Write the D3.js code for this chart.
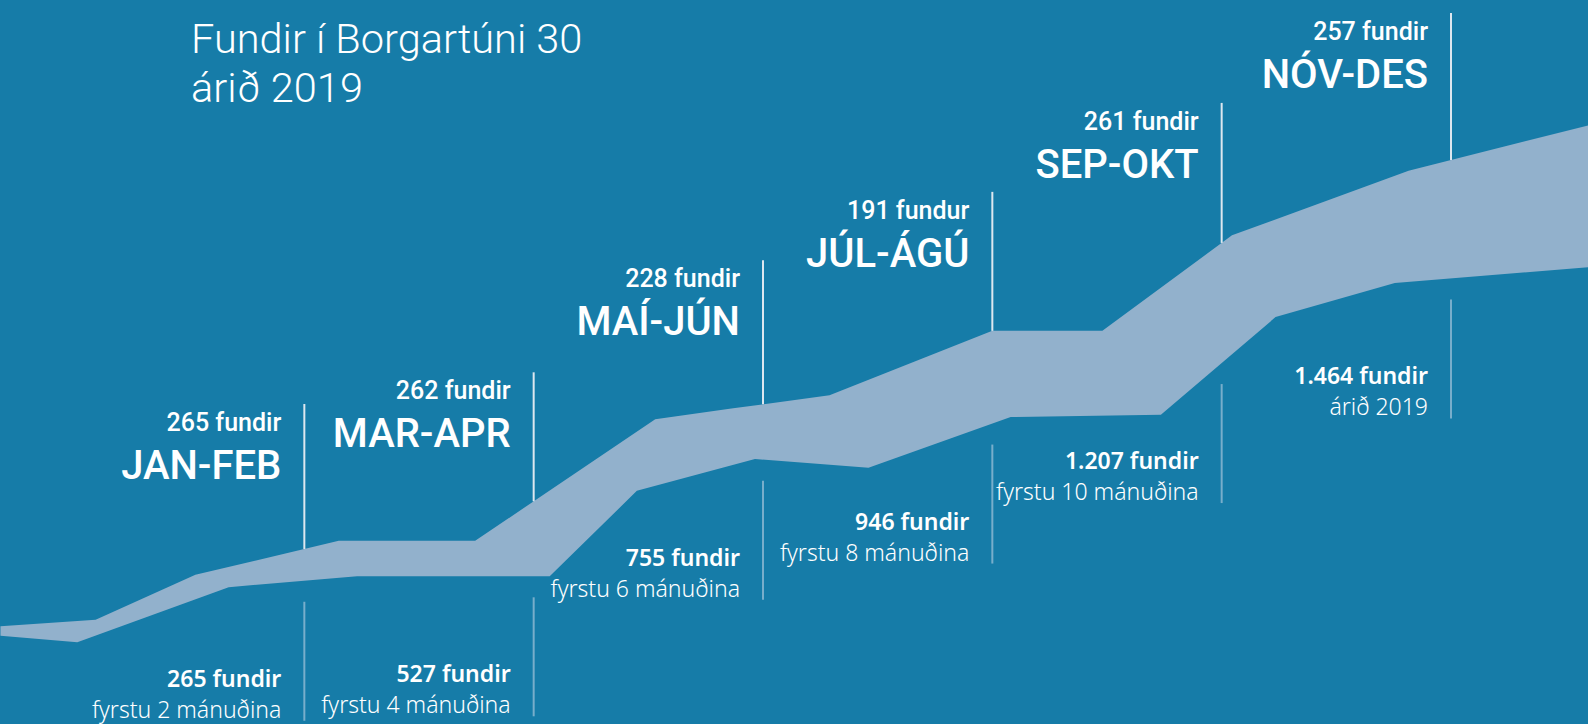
<!DOCTYPE html>
<html>
<head>
<meta charset="utf-8">
<script src="https://cdn.jsdelivr.net/npm/d3@7"></script>
<style>
  html, body { margin: 0; padding: 0; background: #167ca8; }
  svg { display: block; }
</style>
</head>
<body>
<div id="container"></div>
<script>
// tveggja mánaða tímabil
const periods = ["JAN-FEB", "MAR-APR", "MAÍ-JÚN", "JÚL-ÁGÚ", "SEP-OKT", "NÓV-DES"];
const periodEndMonth = [2, 4, 6, 8, 10, 12];
const periodMeetings = [265, 262, 228, 191, 261, 257];
const periodUnit = ["fundir", "fundir", "fundir", "fundur", "fundir", "fundir"];

// uppsafnað
const cumulativeMeetings = [265, 527, 755, 946, 1207, 1464];
const cumulativeNotes = ["fyrstu 2 mánuðina", "fyrstu 4 mánuðina", "fyrstu 6 mánuðina",
  "fyrstu 8 mánuðina", "fyrstu 10 mánuðina", "árið 2019"];

// borðinn (mánuður, hæð 0-100)
const bandUpperMonth = [-0.65, 0.18, 1.05, 2.30, 3.49, 5.06, 5.74, 6.58, 8.00, 8.96, 10.09, 11.63, 13.2];
const bandUpper = [13.5, 14.4, 20.6, 25.3, 25.3, 42.1, 43.6, 45.4, 54.3, 54.3, 67.5, 76.4, 82.7];
const bandLowerMonth = [-0.65, 0.02, 1.34, 2.46, 4.14, 4.90, 5.93, 6.92, 8.16, 9.47, 10.47, 11.51, 13.2];
const bandLower = [12.2, 11.3, 18.9, 20.4, 20.4, 32.2, 36.6, 35.4, 42.4, 42.7, 56.2, 60.9, 63.1];

const titleLines = ["Fundir í Borgartúni 30", "árið 2019"];

const width = 1588, height = 724;

const svg = d3.select("#container")
  .append("svg")
  .attr("width", width)
  .attr("height", height);

svg.append("rect")
  .attr("width", width)
  .attr("height", height)
  .attr("fill", "#167ca8");

const x = d3.scaleLinear().domain([0, 12]).range([75, 1451]);
const y = d3.scaleLinear().domain([0, 100]).range([height, 0]);

const isFormat = d3.formatLocale({decimal: ",", thousands: ".", grouping: [3], currency: ["", " kr."]}).format(",");

// línuleg brúun milli punkta
function interp(ms, vs, m) {
  for (let i = 0; i < ms.length - 1; i++) {
    if (m >= ms[i] && m <= ms[i + 1]) {
      const t = (m - ms[i]) / (ms[i + 1] - ms[i]);
      return vs[i] + t * (vs[i + 1] - vs[i]);
    }
  }
  return vs[vs.length - 1];
}

// borðinn
const upperPts = bandUpperMonth.map((m, i) => [x(m), y(bandUpper[i])]);
const lowerPts = bandLowerMonth.map((m, i) => [x(m), y(bandLower[i])]).reverse();
svg.append("path")
  .attr("d", d3.line()(upperPts.concat(lowerPts)) + "Z")
  .attr("fill", "#92b1cc");

// titill
svg.append("text")
  .attr("x", 191)
  .attr("y", 53)
  .attr("fill", "#ffffff")
  .style("font-family", "Roboto, sans-serif")
  .style("font-weight", 300)
  .style("font-size", "41.5px")
  .selectAll("tspan")
  .data(titleLines)
  .enter()
  .append("tspan")
  .attr("x", 191)
  .attr("dy", (d, i) => i === 0 ? 0 : 49)
  .text(d => d);

// bil fyrir ofan borðann (útlit)
const upperGap = [118, 102, 117, 112, 113, 120];

const groups = svg.selectAll("g.period")
  .data(periods)
  .enter()
  .append("g")
  .attr("class", "period");

groups.each(function (name, i) {
  const g = d3.select(this);
  const m = periodEndMonth[i];
  const px = x(m);
  const topY = y(interp(bandUpperMonth, bandUpper, m));
  const botY = y(interp(bandLowerMonth, bandLower, m));
  const countY = topY - upperGap[i];
  const tx = px - 23;

  // efri lína
  g.append("line")
    .attr("x1", px).attr("x2", px)
    .attr("y1", countY - 27).attr("y2", topY)
    .attr("stroke", "#dde7ef")
    .attr("stroke-width", 2);

  g.append("text")
    .attr("x", tx).attr("y", countY)
    .attr("text-anchor", "end")
    .attr("fill", "#ffffff")
    .style("font-family", "Roboto, sans-serif")
    .style("font-weight", 500)
    .style("font-size", "25px")
    .text(periodMeetings[i] + " " + periodUnit[i]);

  g.append("text")
    .attr("x", tx).attr("y", countY + 48)
    .attr("text-anchor", "end")
    .attr("fill", "#ffffff")
    .style("font-family", "Roboto, sans-serif")
    .style("font-weight", 500)
    .style("font-size", "40px")
    .text(name);

  // neðri lína
  const segTop = botY + 21;
  g.append("line")
    .attr("x1", px).attr("x2", px)
    .attr("y1", segTop).attr("y2", segTop + 119)
    .attr("stroke", "#78aecb")
    .attr("stroke-width", 2);

  g.append("text")
    .attr("x", tx).attr("y", segTop + 85)
    .attr("text-anchor", "end")
    .attr("fill", "#ffffff")
    .style("font-family", "'Noto Sans', sans-serif")
    .style("font-weight", 600)
    .style("font-size", "23px")
    .text(isFormat(cumulativeMeetings[i]) + " fundir");

  g.append("text")
    .attr("x", tx).attr("y", segTop + 116)
    .attr("text-anchor", "end")
    .attr("fill", "#ffffff")
    .style("font-family", "'Noto Sans', sans-serif")
    .style("font-weight", 300)
    .style("font-size", "23px")
    .text(cumulativeNotes[i]);
});
</script>
</body>
</html>
